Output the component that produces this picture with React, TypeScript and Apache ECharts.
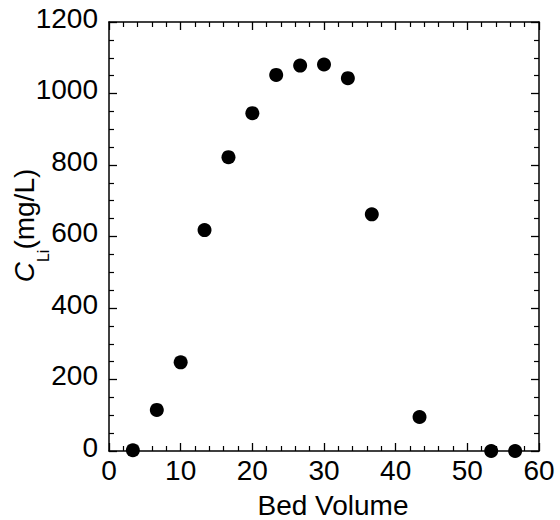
import React, { useEffect, useRef } from "react";
import * as echarts from "echarts";

const bedVolume = [3.33, 6.67, 10, 13.33, 16.67, 20, 23.33, 26.67, 30, 33.33, 36.67, 43.33, 53.33, 56.67];
const cLi = [2, 115, 248, 618, 822, 945, 1052, 1078, 1081, 1043, 662, 95, 0, 0];

const xRange = { min: 0, max: 60, interval: 10 };
const yRange = { min: 0, max: 1200, interval: 200 };

const FONT = "Arial, 'Liberation Sans', Helvetica, sans-serif";

export default function App() {
  const ref = useRef<HTMLDivElement>(null);
  useEffect(() => {
    const chart = echarts.init(ref.current!, null, { renderer: "svg" });
    const lineStyle = { color: "#000", width: 1.5 };
    const baseAxis = {
      axisLine: { show: true, onZero: false, lineStyle },
      axisTick: { show: true, inside: true, length: 8, lineStyle: { color: "#000", width: 1.3 } },
      minorTick: { show: true, length: 5, lineStyle: { color: "#000", width: 1.2 } },
      splitLine: { show: false },
      minorSplitLine: { show: false },
      nameMoveOverlap: false,
    };
    const fmt = (v: number) => String(v);
    const xCommon = { type: "value", ...xRange, ...baseAxis, minorTick: { ...baseAxis.minorTick, splitNumber: 5 } };
    const yCommon = { type: "value", ...yRange, ...baseAxis, minorTick: { ...baseAxis.minorTick, splitNumber: 4 } };
    chart.setOption({
      animation: false,
      backgroundColor: "#fff",
      grid: { left: 109, right: 21, top: 22, bottom: 69, containLabel: false, outerBoundsMode: "none" },
      xAxis: [
        {
          ...xCommon,
          position: "bottom",
          name: "Bed Volume",
          nameLocation: "middle",
          nameGap: 40,
          nameTextStyle: { fontFamily: FONT, fontSize: 28, color: "#000", padding: [0, 0, 0, 18] },
          axisLabel: { fontFamily: FONT, fontSize: 28, color: "#000", margin: 5, formatter: fmt },
        },
        {
          ...xCommon,
          position: "top",
          axisLabel: { show: false },
        },
      ],
      yAxis: [
        {
          ...yCommon,
          position: "left",
          name: "{i|C}{sub|Li}{n|(mg/L)}",
          nameLocation: "middle",
          nameRotate: 90,
          nameGap: 71,
          nameTextStyle: {
            fontFamily: FONT,
            color: "#000",
            padding: [0, 0, 0, 22],
            rich: {
              i: { fontFamily: FONT, fontSize: 28, fontStyle: "italic", color: "#000", verticalAlign: "top", lineHeight: 28 },
              sub: { fontFamily: FONT, fontSize: 16, color: "#000", verticalAlign: "top", lineHeight: 16, padding: [25, 0, 0, 0] },
              n: { fontFamily: FONT, fontSize: 28, color: "#000", verticalAlign: "top", lineHeight: 28 },
            },
          },
          axisLabel: {
            fontFamily: FONT,
            fontSize: 28,
            color: "#000",
            margin: 11,
            formatter: (v: number) => `{a|${v}}`,
            rich: { a: { fontFamily: FONT, fontSize: 28, color: "#000", lineHeight: 28, padding: [0, 0, 8, 0] } },
          },
        },
        {
          ...yCommon,
          position: "right",
          axisLabel: { show: false },
        },
      ],
      series: [
        {
          type: "scatter",
          xAxisIndex: 0,
          yAxisIndex: 0,
          symbol: "circle",
          symbolSize: 14,
          itemStyle: { color: "#000", opacity: 1 },
          data: bedVolume.map((x, i) => [x, cLi[i]]),
        },
      ],
    });
    return () => chart.dispose();
  }, []);
  return <div ref={ref} style={{ position: "fixed", left: 0, top: 0, width: 560, height: 520 }} />;
}
